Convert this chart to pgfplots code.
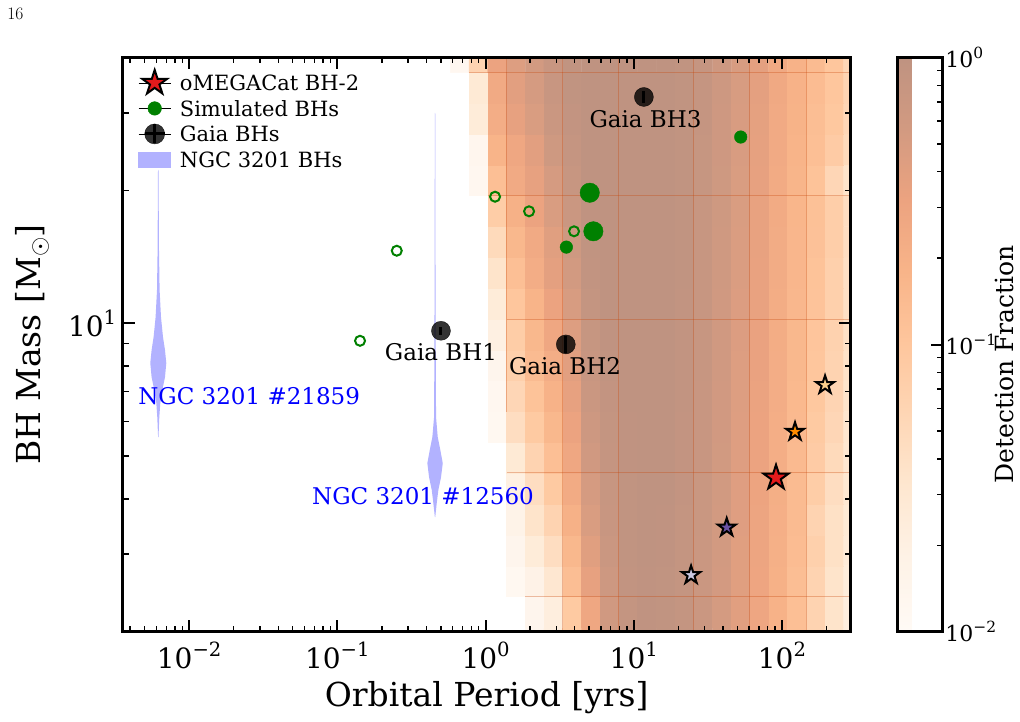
\documentclass[border=0pt]{standalone}
\usepackage{fontspec}
\setmainfont{DejaVu Serif}
\newfontfamily\lmfont{Latin Modern Roman}
\usepackage{graphicx}
\usepackage{pgfplots}
\usepackage{pgfplotstable}
\pgfplotsset{compat=1.18}

\definecolor{simgreen}{RGB}{0,128,0}
\definecolor{ngcblue}{RGB}{178,178,255}
\definecolor{starred}{RGB}{228,26,28}
\definecolor{starorange}{RGB}{255,140,0}
\definecolor{starlight}{RGB}{253,208,140}
\definecolor{starpurple}{RGB}{106,81,163}
\definecolor{starlav}{RGB}{203,201,226}
\definecolor{seamc}{RGB}{200,70,10}

\newcommand{\tenpow}[1]{10\raisebox{0.42em}{\scalebox{0.7}{#1}}}

% filled five-pointed star
\pgfdeclareplotmark{fstar}{%
  \pgfpathmoveto{\pgfpointpolar{90}{\pgfplotmarksize}}%
  \pgfpathlineto{\pgfpointpolar{126}{0.382\pgfplotmarksize}}%
  \pgfpathlineto{\pgfpointpolar{162}{\pgfplotmarksize}}%
  \pgfpathlineto{\pgfpointpolar{198}{0.382\pgfplotmarksize}}%
  \pgfpathlineto{\pgfpointpolar{234}{\pgfplotmarksize}}%
  \pgfpathlineto{\pgfpointpolar{270}{0.382\pgfplotmarksize}}%
  \pgfpathlineto{\pgfpointpolar{306}{\pgfplotmarksize}}%
  \pgfpathlineto{\pgfpointpolar{342}{0.382\pgfplotmarksize}}%
  \pgfpathlineto{\pgfpointpolar{18}{\pgfplotmarksize}}%
  \pgfpathlineto{\pgfpointpolar{54}{0.382\pgfplotmarksize}}%
  \pgfpathclose
  \pgfusepathqfillstroke}

% Oranges at half opacity on white; cells at the floor value stay white
\pgfplotsset{
  colormap={detfrac}{rgb255(0pt)=(255,255,255) rgb255(1pt)=(255,250,245)
    rgb255(26pt)=(254,242,230) rgb255(51pt)=(254,231,208) rgb255(76pt)=(254,214,181)
    rgb255(101pt)=(254,198,157) rgb255(126pt)=(248,180,137) rgb255(151pt)=(236,163,128)
    rgb255(176pt)=(210,154,129) rgb255(201pt)=(191,147,129)},
  seamline/.style={draw=seamc, line width=1pt, opacity=0.33, forget plot},
  candstar/.style={only marks, mark=fstar, mark size=9.5pt, forget plot,
    mark options={draw=black, fill=#1, line width=2pt, line join=miter}},
}

% detection fraction (log10) on the period--mass grid
\pgfplotstableread{
P M logf
0.6692 1.888 -2
0.8952 1.888 -2
1.1977 1.888 -2
1.6023 1.888 -2
2.1435 1.888 -1.85
2.8675 1.888 -1.65
3.836 1.888 -1.05
5.132 1.888 -0.55
6.865 1.888 -0.22
9.184 1.888 -0.06
12.286 1.888 -0.01
16.435 1.888 -0.02
21.98 1.888 -0.07
29.41 1.888 -0.15
39.34 1.888 -0.27
52.63 1.888 -0.39
70.41 1.888 -0.54
94.19 1.888 -0.72
126.0 1.888 -0.9
168.6 1.888 -1.2
225.5 1.888 -1.45
301.7 1.888 -1.65
0.6692 2.218 -2
0.8952 2.218 -2
1.1977 2.218 -2
1.6023 2.218 -2
2.1435 2.218 -1.85
2.8675 2.218 -1.65
3.836 2.218 -1.05
5.132 2.218 -0.55
6.865 2.218 -0.22
9.184 2.218 -0.06
12.286 2.218 -0.01
16.435 2.218 -0.02
21.98 2.218 -0.07
29.41 2.218 -0.15
39.34 2.218 -0.27
52.63 2.218 -0.39
70.41 2.218 -0.54
94.19 2.218 -0.72
126.0 2.218 -0.9
168.6 2.218 -1.2
225.5 2.218 -1.45
301.7 2.218 -1.65
0.6692 2.604 -2
0.8952 2.604 -2
1.1977 2.604 -2
1.6023 2.604 -1.92
2.1435 2.604 -1.75
2.8675 2.604 -1.5
3.836 2.604 -0.88
5.132 2.604 -0.45
6.865 2.604 -0.18
9.184 2.604 -0.04
12.286 2.604 -0.01
16.435 2.604 -0.02
21.98 2.604 -0.07
29.41 2.604 -0.14
39.34 2.604 -0.26
52.63 2.604 -0.38
70.41 2.604 -0.53
94.19 2.604 -0.7
126.0 2.604 -0.88
168.6 2.604 -1.2
225.5 2.604 -1.45
301.7 2.604 -1.62
0.6692 3.059 -2
0.8952 3.059 -2
1.1977 3.059 -2
1.6023 3.059 -1.85
2.1435 3.059 -1.6
2.8675 3.059 -1.35
3.836 3.059 -0.8
5.132 3.059 -0.38
6.865 3.059 -0.15
9.184 3.059 -0.03
12.286 3.059 0
16.435 3.059 -0.01
21.98 3.059 -0.06
29.41 3.059 -0.14
39.34 3.059 -0.25
52.63 3.059 -0.38
70.41 3.059 -0.52
94.19 3.059 -0.69
126.0 3.059 -0.86
168.6 3.059 -1.15
225.5 3.059 -1.4
301.7 3.059 -1.58
0.6692 3.594 -2
0.8952 3.594 -2
1.1977 3.594 -2
1.6023 3.594 -1.78
2.1435 3.594 -1.45
2.8675 3.594 -1.2
3.836 3.594 -0.7
5.132 3.594 -0.32
6.865 3.594 -0.12
9.184 3.594 -0.02
12.286 3.594 0
16.435 3.594 -0.01
21.98 3.594 -0.06
29.41 3.594 -0.13
39.34 3.594 -0.25
52.63 3.594 -0.37
70.41 3.594 -0.52
94.19 3.594 -0.68
126.0 3.594 -0.85
168.6 3.594 -1.2
225.5 3.594 -1.4
301.7 3.594 -1.55
0.6692 4.221 -2
0.8952 4.221 -2
1.1977 4.221 -2
1.6023 4.221 -1.7
2.1435 4.221 -1.35
2.8675 4.221 -1.05
3.836 4.221 -0.62
5.132 4.221 -0.28
6.865 4.221 -0.1
9.184 4.221 -0.02
12.286 4.221 0
16.435 4.221 0
21.98 4.221 -0.05
29.41 4.221 -0.13
39.34 4.221 -0.24
52.63 4.221 -0.37
70.41 4.221 -0.51
94.19 4.221 -0.67
126.0 4.221 -0.84
168.6 4.221 -1.1
225.5 4.221 -1.35
301.7 4.221 -1.52
0.6692 4.959 -2
0.8952 4.959 -2
1.1977 4.959 -2
1.6023 4.959 -1.55
2.1435 4.959 -1.2
2.8675 4.959 -0.9
3.836 4.959 -0.55
5.132 4.959 -0.22
6.865 4.959 -0.08
9.184 4.959 -0.01
12.286 4.959 0
16.435 4.959 0
21.98 4.959 -0.05
29.41 4.959 -0.12
39.34 4.959 -0.24
52.63 4.959 -0.36
70.41 4.959 -0.5
94.19 4.959 -0.66
126.0 4.959 -0.83
168.6 4.959 -1.08
225.5 4.959 -1.3
301.7 4.959 -1.5
0.6692 5.824 -2
0.8952 5.824 -2
1.1977 5.824 -1.93
1.6023 5.824 -1.35
2.1435 5.824 -1.05
2.8675 5.824 -0.8
3.836 5.824 -0.5
5.132 5.824 -0.18
6.865 5.824 -0.06
9.184 5.824 -0.01
12.286 5.824 0
16.435 5.824 0
21.98 5.824 -0.05
29.41 5.824 -0.12
39.34 5.824 -0.23
52.63 5.824 -0.36
70.41 5.824 -0.5
94.19 5.824 -0.66
126.0 5.824 -0.82
168.6 5.824 -1.05
225.5 5.824 -1.25
301.7 5.824 -1.48
0.6692 6.842 -2
0.8952 6.842 -2
1.1977 6.842 -1.9
1.6023 6.842 -1.25
2.1435 6.842 -0.95
2.8675 6.842 -0.72
3.836 6.842 -0.45
5.132 6.842 -0.15
6.865 6.842 -0.05
9.184 6.842 0
12.286 6.842 0
16.435 6.842 0
21.98 6.842 -0.04
29.41 6.842 -0.12
39.34 6.842 -0.23
52.63 6.842 -0.35
70.41 6.842 -0.49
94.19 6.842 -0.65
126.0 6.842 -0.81
168.6 6.842 -1.02
225.5 6.842 -1.22
301.7 6.842 -1.45
0.6692 8.035 -2
0.8952 8.035 -2
1.1977 8.035 -1.85
1.6023 8.035 -1.15
2.1435 8.035 -0.85
2.8675 8.035 -0.65
3.836 8.035 -0.4
5.132 8.035 -0.12
6.865 8.035 -0.03
9.184 8.035 0
12.286 8.035 0
16.435 8.035 0
21.98 8.035 -0.04
29.41 8.035 -0.11
39.34 8.035 -0.22
52.63 8.035 -0.35
70.41 8.035 -0.48
94.19 8.035 -0.65
126.0 8.035 -0.8
168.6 8.035 -1
225.5 8.035 -1.2
301.7 8.035 -1.42
0.6692 9.438 -2
0.8952 9.438 -2
1.1977 9.438 -1.7
1.6023 9.438 -1.1
2.1435 9.438 -0.8
2.8675 9.438 -0.55
3.836 9.438 -0.35
5.132 9.438 -0.09
6.865 9.438 -0.01
9.184 9.438 0
12.286 9.438 0
16.435 9.438 0
21.98 9.438 -0.04
29.41 9.438 -0.11
39.34 9.438 -0.22
52.63 9.438 -0.34
70.41 9.438 -0.48
94.19 9.438 -0.64
126.0 9.438 -0.8
168.6 9.438 -0.98
225.5 9.438 -1.18
301.7 9.438 -1.4
0.6692 11.087 -2
0.8952 11.087 -2
1.1977 11.087 -1.6
1.6023 11.087 -1
2.1435 11.087 -0.75
2.8675 11.087 -0.5
3.836 11.087 -0.3
5.132 11.087 -0.06
6.865 11.087 0
9.184 11.087 0
12.286 11.087 0
16.435 11.087 0
21.98 11.087 -0.04
29.41 11.087 -0.11
39.34 11.087 -0.22
52.63 11.087 -0.34
70.41 11.087 -0.47
94.19 11.087 -0.64
126.0 11.087 -0.79
168.6 11.087 -0.96
225.5 11.087 -1.15
301.7 11.087 -1.38
0.6692 13.02 -2
0.8952 13.02 -2
1.1977 13.02 -1.45
1.6023 13.02 -0.9
2.1435 13.02 -0.65
2.8675 13.02 -0.42
3.836 13.02 -0.25
5.132 13.02 -0.04
6.865 13.02 0
9.184 13.02 0
12.286 13.02 0
16.435 13.02 0
21.98 13.02 -0.03
29.41 13.02 -0.1
39.34 13.02 -0.21
52.63 13.02 -0.33
70.41 13.02 -0.47
94.19 13.02 -0.63
126.0 13.02 -0.78
168.6 13.02 -0.95
225.5 13.02 -1.15
301.7 13.02 -1.38
0.6692 15.30 -2
0.8952 15.30 -2
1.1977 15.30 -1.3
1.6023 15.30 -0.8
2.1435 15.30 -0.6
2.8675 15.30 -0.38
3.836 15.30 -0.2
5.132 15.30 -0.02
6.865 15.30 0
9.184 15.30 0
12.286 15.30 0
16.435 15.30 0
21.98 15.30 -0.03
29.41 15.30 -0.1
39.34 15.30 -0.21
52.63 15.30 -0.33
70.41 15.30 -0.46
94.19 15.30 -0.63
126.0 15.30 -0.78
168.6 15.30 -0.93
225.5 15.30 -1.12
301.7 15.30 -1.35
0.6692 17.97 -2
0.8952 17.97 -2
1.1977 17.97 -1.1
1.6023 17.97 -0.7
2.1435 17.97 -0.5
2.8675 17.97 -0.32
3.836 17.97 -0.15
5.132 17.97 -0.01
6.865 17.97 0
9.184 17.97 0
12.286 17.97 0
16.435 17.97 0
21.98 17.97 -0.03
29.41 17.97 -0.1
39.34 17.97 -0.2
52.63 17.97 -0.32
70.41 17.97 -0.46
94.19 17.97 -0.62
126.0 17.97 -0.77
168.6 17.97 -0.92
225.5 17.97 -1.12
301.7 17.97 -1.35
0.6692 21.11 -2
0.8952 21.11 -1.9
1.1977 21.11 -0.9
1.6023 21.11 -0.6
2.1435 21.11 -0.45
2.8675 21.11 -0.28
3.836 21.11 -0.1
5.132 21.11 0
6.865 21.11 0
9.184 21.11 0
12.286 21.11 0
16.435 21.11 0
21.98 21.11 -0.03
29.41 21.11 -0.09
39.34 21.11 -0.2
52.63 21.11 -0.32
70.41 21.11 -0.45
94.19 21.11 -0.62
126.0 21.11 -0.76
168.6 21.11 -0.95
225.5 21.11 -1.25
301.7 21.11 -1.45
0.6692 24.79 -2
0.8952 24.79 -1.88
1.1977 24.79 -0.75
1.6023 24.79 -0.55
2.1435 24.79 -0.4
2.8675 24.79 -0.2
3.836 24.79 -0.08
5.132 24.79 0
6.865 24.79 0
9.184 24.79 0
12.286 24.79 0
16.435 24.79 0
21.98 24.79 -0.03
29.41 24.79 -0.09
39.34 24.79 -0.19
52.63 24.79 -0.31
70.41 24.79 -0.44
94.19 24.79 -0.6
126.0 24.79 -0.74
168.6 24.79 -0.9
225.5 24.79 -1.08
301.7 24.79 -1.3
0.6692 29.13 -2
0.8952 29.13 -1.6
1.1977 29.13 -0.65
1.6023 29.13 -0.45
2.1435 29.13 -0.32
2.8675 29.13 -0.15
3.836 29.13 -0.05
5.132 29.13 0
6.865 29.13 0
9.184 29.13 0
12.286 29.13 0
16.435 29.13 0
21.98 29.13 -0.02
29.41 29.13 -0.08
39.34 29.13 -0.19
52.63 29.13 -0.31
70.41 29.13 -0.43
94.19 29.13 -0.6
126.0 29.13 -0.73
168.6 29.13 -0.88
225.5 29.13 -1.02
301.7 29.13 -1.25
0.6692 34.21 -2
0.8952 34.21 -1.55
1.1977 34.21 -0.6
1.6023 34.21 -0.4
2.1435 34.21 -0.28
2.8675 34.21 -0.12
3.836 34.21 -0.03
5.132 34.21 0
6.865 34.21 0
9.184 34.21 0
12.286 34.21 0
16.435 34.21 0
21.98 34.21 -0.02
29.41 34.21 -0.08
39.34 34.21 -0.18
52.63 34.21 -0.3
70.41 34.21 -0.42
94.19 34.21 -0.58
126.0 34.21 -0.72
168.6 34.21 -0.86
225.5 34.21 -1
301.7 34.21 -1.22
0.6692 40.18 -1.9
0.8952 40.18 -1.2
1.1977 40.18 -0.5
1.6023 40.18 -0.35
2.1435 40.18 -0.25
2.8675 40.18 -0.12
3.836 40.18 -0.02
5.132 40.18 0
6.865 40.18 0
9.184 40.18 0
12.286 40.18 0
16.435 40.18 0
21.98 40.18 -0.02
29.41 40.18 -0.08
39.34 40.18 -0.18
52.63 40.18 -0.3
70.41 40.18 -0.42
94.19 40.18 -0.58
126.0 40.18 -0.72
168.6 40.18 -0.85
225.5 40.18 -1
301.7 40.18 -1.25
}\detgrid

\begin{document}
\begin{tikzpicture}
\useasboundingbox (-122.7pt,-90.3pt) rectangle (897.3pt,631.7pt);
\node[font=\lmfont\fontsize{17.5}{20}\selectfont] at (-107.4pt,617.5pt) {16};
\begin{axis}[
  at={(0pt,0pt)}, anchor=south west,
  scale only axis, width=728pt, height=574.2pt,
  xmode=log, ymode=log, log basis x=10, log basis y=10,
  xmin=0.00356, xmax=291, ymin=2.0, ymax=40.06,
  axis on top,
  axis line style={line width=3pt},
  tick align=inside, xtick pos=both, ytick pos=both,
  major tick length=12pt, minor tick length=6pt,
  major tick style={line width=2pt, black},
  minor tick style={line width=1.4pt, black},
  xtick={0.01,0.1,1,10,100},
  xticklabels={\tenpow{−2},\tenpow{−1},\tenpow{0},\tenpow{1},\tenpow{2}},
  minor xtick={0.004,0.005,0.006,0.007,0.008,0.009,
    0.02,0.03,0.04,0.05,0.06,0.07,0.08,0.09,
    0.2,0.3,0.4,0.5,0.6,0.7,0.8,0.9,
    2,3,4,5,6,7,8,9,20,30,40,50,60,70,80,90,200},
  ytick={10},
  yticklabels={\tenpow{1}},
  minor ytick={3,4,5,6,7,8,9,20,30,40},
  tick label style={font=\fontsize{28}{31}\selectfont},
  xticklabel style={yshift=-7pt},
  yticklabel style={xshift=-3pt},
  xlabel={Orbital Period [yrs]},
  ylabel={BH Mass [M\textsubscript{$\odot$}]},
  label style={font=\fontsize{33}{37}\selectfont},
  xlabel style={at={(axis description cs:0.5,-0.115)}, anchor=center},
  ylabel style={at={(axis description cs:-0.124,0.5)}, anchor=center},
  colormap name=detfrac, point meta min=-2, point meta max=0,
  colorbar,
  colorbar style={
    width=45.3pt,
    at={(parent axis.north east)}, anchor=north west, xshift=38.3pt,
    axis line style={line width=3pt},
    ytick={-2,-1,0},
    yticklabels={\tenpow{−2},\tenpow{−1},\tenpow{0}},
    minor ytick={-1.69897,-1.52288,-1.39794,-1.30103,-1.22185,-1.15490,-1.09691,-1.04576,-0.69897,-0.52288,-0.39794,-0.30103,-0.22185,-0.15490,-0.09691,-0.04576},
    ytick pos=right, yticklabel pos=right,
    tick align=inside,
    major tick length=12pt, minor tick length=6pt,
    major tick style={line width=2pt, black},
    minor tick style={line width=1.4pt, black},
    yticklabel style={font=\fontsize{22}{25}\selectfont, xshift=-1pt},
    ylabel={Detection Fraction},
    ylabel style={font=\fontsize{25}{28}\selectfont, at={(axis description cs:2.37,0.466)}, anchor=center, inner sep=0pt},
  },
  legend style={
    draw=none, fill=none,
    at={(axis description cs:0,1)}, anchor=north west,
    xshift=15.6pt, yshift=-17.5pt,
    inner sep=0pt, row sep=10pt,
    font=\fontsize{21}{24}\selectfont,
    nodes={inner xsep=0pt, inner ysep=0pt, text height=15.5pt, text depth=0pt},
    /tikz/every odd column/.append style={column sep=9pt},
  },
  legend cell align=left,
]
% legend entries
\addlegendimage{legend image code/.code={\path (0pt,0pt) -- (32pt,0pt);
  \draw[overlay, black, fill=starred, line width=2pt, line join=miter, mark size=13pt] plot[only marks, mark=fstar] coordinates {(16pt,0pt)};}}
\addlegendentry{oMEGACat BH-2}
\addlegendimage{legend image code/.code={\path (0pt,0pt) -- (32pt,0pt);
  \fill[overlay, simgreen] (16pt,0pt) circle[radius=6.8pt];}}
\addlegendentry{Simulated BHs}
\addlegendimage{legend image code/.code={\path (0pt,0pt) -- (32pt,0pt);
  \fill[overlay, black, opacity=0.8] (16pt,0pt) circle[radius=10pt];
  \draw[overlay, line width=3pt] (16pt,-9.5pt) -- (16pt,9.5pt) (6pt,0pt) -- (26pt,0pt);}}
\addlegendentry{Gaia BHs}
\addlegendimage{legend image code/.code={\path (0pt,0pt) -- (32pt,0pt);
  \fill[overlay, ngcblue] (0pt,-7.5pt) rectangle (32pt,7.5pt);}}
\addlegendentry{NGC 3201 BHs}

% detection-fraction map
\addplot[matrix plot*, mesh/cols=22, point meta=explicit, forget plot]
  table[x=P, y=M, meta=logf] {\detgrid};

% seams of the map
\addplot[seamline] coordinates {(1.385,6.3) (1.385,41)};
\addplot[seamline] coordinates {(3.316,1.9) (3.316,41)};
\addplot[seamline] coordinates {(7.94,1.9) (7.94,41)};
\addplot[seamline] coordinates {(25.43,1.9) (25.43,41)};
\addplot[seamline] coordinates {(60.86,1.9) (60.86,41)};
\addplot[seamline] coordinates {(145.7,1.9) (145.7,41)};
\addplot[seamline] coordinates {(0.774,37.08) (300,37.08)};
\addplot[seamline] coordinates {(1.035,19.47) (300,19.47)};
\addplot[seamline] coordinates {(1.385,10.23) (300,10.23)};
\addplot[seamline] coordinates {(1.385,4.584) (300,4.584)};
\addplot[seamline] coordinates {(1.854,2.407) (300,2.407)};

% NGC 3201 mass posteriors
\addplot[fill=ngcblue, draw=none, forget plot] coordinates {
  (0.006209,22.27) (0.006257,14.66) (0.006317,11.90) (0.006455,10.33)
  (0.006659,9.31) (0.006868,8.70) (0.007010,8.13) (0.006868,7.55)
  (0.006587,7.06) (0.006386,6.60) (0.006287,6.13) (0.006209,5.52)
  (0.006171,5.52) (0.006094,6.13) (0.006000,6.60) (0.005817,7.06)
  (0.005579,7.55) (0.005466,8.13) (0.005579,8.70) (0.005754,9.31)
  (0.005936,10.33) (0.006066,11.90) (0.006123,14.66) (0.006162,22.27)} -- cycle;
\addplot[fill=ngcblue, draw=none, forget plot] coordinates {
  (0.4576,29.99) (0.4598,11.29) (0.4619,7.44) (0.4634,6.13) (0.4757,5.52)
  (0.4953,5.16) (0.5142,4.82) (0.5007,4.48) (0.4802,4.19) (0.4684,3.913)
  (0.4576,3.638) (0.4548,3.638) (0.4443,3.913) (0.4334,4.19) (0.4156,4.48)
  (0.4048,4.82) (0.4202,5.16) (0.4375,5.52) (0.4492,6.13) (0.4506,7.44)
  (0.4527,11.29) (0.4548,29.99)} -- cycle;

% simulated black holes
\addplot[only marks, mark=*, mark size=9.7pt, color=simgreen, forget plot]
  coordinates {(5.047,19.78) (5.339,16.17)};
\addplot[only marks, mark=*, mark size=6.3pt, color=simgreen, forget plot]
  coordinates {(3.510,14.89) (52.7,26.45)};
\addplot[only marks, mark=o, mark size=5pt, color=simgreen, mark options={line width=2pt}, forget plot]
  coordinates {(0.1422,9.13) (0.2517,14.61) (1.159,19.37) (1.966,17.95) (3.955,16.17)};

% Gaia black holes
\addplot[only marks, mark=*, mark size=9.5pt, mark options={fill=black, draw=none, opacity=0.8}, forget plot,
  error bars/.cd, y dir=both, y explicit, error bar style={line width=3pt, black}, error mark=none]
  coordinates {(0.50,9.62) +- (0,0.2) (3.48,8.96) +- (0,0.38) (11.7,32.6) +- (0,1.0)};

% oMEGACat candidates
\addplot[candstar=starlav] coordinates {(24.36,2.687)};
\addplot[candstar=starpurple] coordinates {(42.4,3.446)};
\addplot[candstar=starorange] coordinates {(122.5,5.68)};
\addplot[candstar=starlight] coordinates {(195.4,7.25)};
\addplot[candstar=starred, mark size=13pt] coordinates {(91.2,4.467)};

% labels
\node[text=blue, font=\fontsize{23}{26}\selectfont] at (axis cs:0.0254,6.84) {NGC 3201 \#21859};
\node[text=blue, font=\fontsize{23}{26}\selectfont] at (axis cs:0.3787,4.06) {NGC 3201 \#12560};
\node[font=\fontsize{23}{26}\selectfont] at (axis cs:0.50,8.587) {Gaia BH1};
\node[font=\fontsize{23}{26}\selectfont] at (axis cs:3.439,7.99) {Gaia BH2};
\node[font=\fontsize{23}{26}\selectfont] at (axis cs:12.01,29.09) {Gaia BH3};
\end{axis}
\end{tikzpicture}
\end{document}
